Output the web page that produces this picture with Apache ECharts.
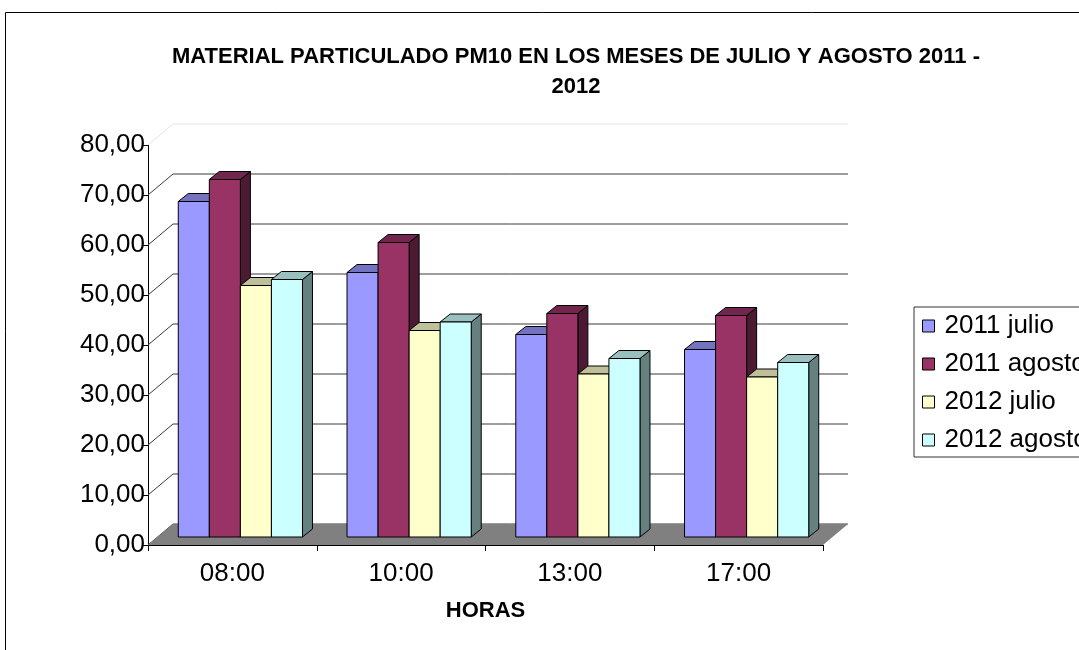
<!DOCTYPE html>
<html>
<head>
<meta charset="utf-8">
<script src="https://cdn.jsdelivr.net/npm/echarts@6/dist/echarts.min.js"></script>
<style>
  html, body { margin: 0; padding: 0; background: #fff; }
  #chart { width: 1079px; height: 650px; }
</style>
</head>
<body>
<div id="chart"></div>
<script>
// PM10 averages by hour (µg/m³)
const horas = ['08:00', '10:00', '13:00', '17:00'];
const julio2011 = [67.1, 52.9, 40.5, 37.5];
const agosto2011 = [71.5, 58.9, 44.7, 44.3];
const julio2012 = [50.3, 41.3, 32.6, 32.0];
const agosto2012 = [51.5, 43.0, 35.7, 34.9];
const gridTicks = [0, 10, 20, 30, 40, 50, 60, 70, 80];
const seriesNames = ['2011 julio', '2011 agosto', '2012 julio', '2012 agosto'];
const seriesValues = [julio2011, agosto2011, julio2012, agosto2012];
const seriesColors = ['#9999FF', '#993366', '#FFFFCC', '#CCFFFF'];

const FONT = "'Liberation Sans', Arial, sans-serif";

// pseudo-3D geometry (pixels)
const WALL_DX = 25, WALL_DY = -21;   // floor / back wall depth
const BAR_DX = 8, BAR_DY = -8;       // bar front plane offset
const DEPTH_X = 10, DEPTH_Y = -8;    // bar depth
const BAR_RATIO = 0.184;             // bar width / category width

function shade(hex, f) {
  const n = parseInt(hex.slice(1), 16);
  const r = Math.round(((n >> 16) & 255) * f);
  const g = Math.round(((n >> 8) & 255) * f);
  const b = Math.round((n & 255) * f);
  return 'rgb(' + r + ',' + g + ',' + b + ')';
}

function barRenderer(k) {
  return function (params, api) {
    const cat = api.value(0);
    const v = api.value(1);
    const base = api.coord([cat, 0]);
    const top = api.coord([cat, v]);
    const band = api.size([1, 0])[0];
    const w = band * BAR_RATIO;
    const x = base[0] - 2 * w + k * w + BAR_DX;
    const yb = base[1] + BAR_DY;
    const yt = top[1] + BAR_DY;
    const c = seriesColors[k];
    const edge = { stroke: '#000', lineWidth: 1 };
    return {
      type: 'group',
      children: [
        { type: 'polygon',
          shape: { points: [[x + w, yt], [x + w + DEPTH_X, yt + DEPTH_Y], [x + w + DEPTH_X, yb + DEPTH_Y], [x + w, yb]] },
          style: Object.assign({ fill: shade(c, 0.5) }, edge) },
        { type: 'polygon',
          shape: { points: [[x, yt], [x + DEPTH_X, yt + DEPTH_Y], [x + w + DEPTH_X, yt + DEPTH_Y], [x + w, yt]] },
          style: Object.assign({ fill: shade(c, 0.75) }, edge) },
        { type: 'rect',
          shape: { x: x, y: yt, width: w, height: yb - yt },
          style: Object.assign({ fill: c }, edge) }
      ]
    };
  };
}

// back wall gridlines and the left-wall diagonals
function wallRenderer(params, api) {
  const cs = params.coordSys;
  const t = api.value(1);
  const y = api.coord([0, t])[1];
  const col = t === 80 ? '#e4e4e4' : '#3a3a3a';
  return {
    type: 'group',
    children: [
      { type: 'line', shape: { x1: cs.x, y1: y, x2: cs.x + WALL_DX, y2: y + WALL_DY }, style: { stroke: col, lineWidth: 1 } },
      { type: 'line', shape: { x1: cs.x + WALL_DX, y1: y + WALL_DY, x2: cs.x + cs.width + WALL_DX, y2: y + WALL_DY }, style: { stroke: col, lineWidth: 1 } }
    ]
  };
}

// grey floor
function floorRenderer(params, api) {
  const cs = params.coordSys;
  const y0 = api.coord([0, 0])[1];
  return {
    type: 'polygon',
    shape: { points: [[cs.x, y0], [cs.x + cs.width, y0], [cs.x + cs.width + WALL_DX, y0 + WALL_DY], [cs.x + WALL_DX, y0 + WALL_DY]] },
    style: { fill: '#808080' }
  };
}

const chart = echarts.init(document.getElementById('chart'), null, { renderer: 'canvas' });

const series = [
  { type: 'custom', name: 'wall', silent: true, z: 1, renderItem: wallRenderer,
    data: gridTicks.map(t => [0, t]) },
  { type: 'custom', name: 'floor', silent: true, z: 2, renderItem: floorRenderer,
    data: [[0, 0]] }
];
seriesNames.forEach((name, k) => {
  series.push({
    type: 'custom',
    name: name,
    z: 3,
    renderItem: barRenderer(k),
    itemStyle: { color: seriesColors[k] },
    encode: { x: 0, y: 1 },
    data: horas.map((h, i) => [i, seriesValues[k][i]])
  });
});

chart.setOption({
  animation: false,
  backgroundColor: '#fff',
  graphic: [
    { type: 'rect', shape: { x: 5.5, y: 12.5, width: 2000, height: 2000 },
      style: { fill: 'none', stroke: '#000', lineWidth: 1 }, silent: true },
    { type: 'text', x: 576, y: 42,
      style: { text: 'MATERIAL PARTICULADO PM10 EN LOS MESES DE JULIO Y AGOSTO 2011 -\n2012',
               fill: '#000', font: 'bold 22px ' + FONT, textAlign: 'center', lineHeight: 30 } }
  ],
  grid: { left: 148, right: 256, top: 145, bottom: 105 },
  xAxis: {
    type: 'category',
    data: horas,
    axisLine: { show: true, lineStyle: { color: '#000', width: 1 } },
    axisTick: { show: true, length: 6, lineStyle: { color: '#000' } },
    axisLabel: { fontSize: 26, color: '#000', fontFamily: FONT, margin: 16 },
    splitLine: { show: false },
    name: 'HORAS',
    nameLocation: 'middle',
    nameGap: 55,
    nameTextStyle: { fontSize: 22, fontWeight: 'bold', color: '#000', fontFamily: FONT }
  },
  yAxis: {
    type: 'value',
    min: 0, max: 80, interval: 10,
    axisLine: { show: true, lineStyle: { color: '#000', width: 1 } },
    axisTick: { show: true, length: 5, lineStyle: { color: '#000' } },
    axisLabel: { fontSize: 26, color: '#000', fontFamily: FONT, margin: 3,
                 formatter: v => v.toFixed(2).replace('.', ',') },
    splitLine: { show: false }
  },
  legend: {
    orient: 'vertical',
    left: 914, top: 307,
    data: seriesNames,
    icon: 'rect',
    itemWidth: 12, itemHeight: 12, itemGap: 10,
    padding: [5, 60, 3, 8],
    borderColor: '#333', borderWidth: 1,
    itemStyle: { borderColor: '#000', borderWidth: 1 },
    textStyle: { fontSize: 26, color: '#000', fontFamily: FONT, lineHeight: 28, padding: [0, 0, 0, 5] }
  },
  series: series
});
</script>
</body>
</html>
